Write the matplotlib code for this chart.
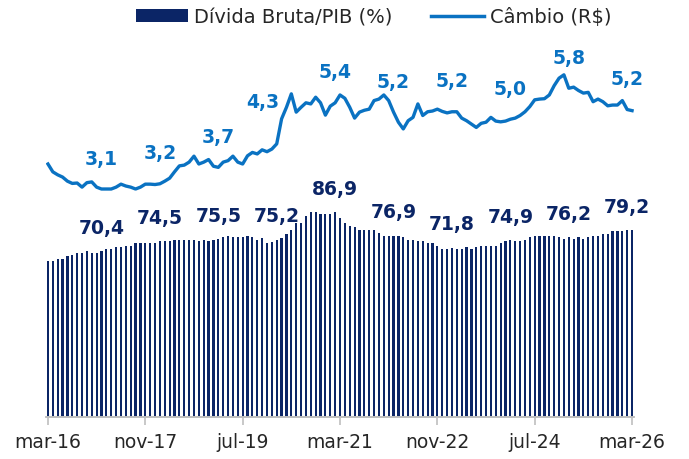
import matplotlib.pyplot as plt
from matplotlib.patches import Patch
from matplotlib.lines import Line2D

# months from mar-16 to mar-26
month_names = ['jan', 'fev', 'mar', 'abr', 'mai', 'jun', 'jul', 'ago', 'set', 'out', 'nov', 'dez']
months = []
for k in range(121):
    m = (2 + k) % 12
    y = 16 + (2 + k) // 12
    months.append('%s-%02d' % (month_names[m], y))

# Divida bruta do governo geral (% PIB)
debt = [
    66.4, 66.4, 67.1, 67.1, 68.5, 68.8, 69.6, 69.6, 70.3, 69.6, 69.6, 70.4,
    71.3, 71.3, 72.0, 72.0, 72.7, 72.7, 73.7, 73.7, 73.7, 73.7, 73.7, 74.5,
    74.6, 74.6, 75.3, 75.3, 75.3, 75.3, 75.3, 74.6, 75.3, 74.6, 75.3, 75.5,
    76.3, 77.0, 76.3, 76.3, 76.3, 77.0, 76.3, 75.3, 76.0, 73.9, 74.4, 75.2,
    76.0, 77.7, 79.5, 82.3, 82.3, 85.4, 86.9, 86.9, 86.2, 86.2, 86.2, 86.9,
    84.5, 82.3, 81.2, 80.5, 79.5, 79.5, 79.5, 79.5, 78.0, 77.0, 76.6, 76.9,
    76.6, 76.3, 75.3, 75.3, 74.6, 74.6, 73.9, 73.9, 72.7, 71.5, 71.5, 71.8,
    71.5, 71.5, 72.0, 71.5, 72.0, 72.7, 72.7, 72.7, 72.7, 73.9, 74.6, 74.9,
    74.6, 74.6, 75.3, 76.3, 77.0, 77.0, 77.0, 77.0, 77.0, 76.3, 75.6, 76.2,
    75.6, 76.3, 75.6, 76.3, 77.0, 77.0, 77.7, 77.7, 78.8, 78.8, 78.8, 79.2,
    79.5,
]

# Cambio R$/US$ (media mensal)
fx = [
    3.77, 3.56, 3.48, 3.42, 3.31, 3.25, 3.26, 3.15, 3.27, 3.29, 3.15, 3.10,
    3.10, 3.10, 3.15, 3.23, 3.18, 3.15, 3.10, 3.15, 3.23, 3.23, 3.22, 3.24,
    3.31, 3.39, 3.56, 3.72, 3.74, 3.82, 3.98, 3.77, 3.82, 3.89, 3.71, 3.68,
    3.82, 3.86, 3.98, 3.82, 3.77, 3.99, 4.08, 4.04, 4.15, 4.10, 4.17, 4.31,
    4.98, 5.29, 5.65, 5.16, 5.29, 5.41, 5.38, 5.56, 5.41, 5.08, 5.32, 5.41,
    5.62, 5.53, 5.29, 5.00, 5.16, 5.21, 5.24, 5.47, 5.51, 5.62, 5.47, 5.16,
    4.89, 4.71, 4.93, 5.02, 5.38, 5.07, 5.17, 5.19, 5.24, 5.18, 5.14, 5.17,
    5.17, 5.00, 4.93, 4.84, 4.75, 4.86, 4.89, 5.02, 4.92, 4.90, 4.92, 4.97,
    5.00, 5.07, 5.17, 5.31, 5.49, 5.51, 5.52, 5.62, 5.87, 6.07, 6.16, 5.80,
    5.83, 5.74, 5.67, 5.69, 5.44, 5.51, 5.44, 5.33, 5.35, 5.35, 5.47, 5.23,
    5.20,
]

label_idx = list(range(11, 121, 12))   # fevereiro de cada ano
tick_idx = list(range(0, 121, 20))

navy = '#0B2566'
blue = '#0A72C2'

x = list(range(len(months)))

fig = plt.figure(figsize=(6.89, 4.60), dpi=100)
ax = fig.add_axes([46 / 689, 1 - 418 / 460, 588 / 689, 378 / 460])
ax2 = ax.twinx()

ax.bar(x, debt, width=0.45, color=navy, zorder=2)
ax2.plot(x, fx, color=blue, lw=2.4, zorder=3)

ax.set_xlim(-0.4, 120.4)
ax.set_ylim(0, 160.4)
ax2.set_ylim(-3.01, 7.12)

for i in label_idx:
    ax.annotate(('%.1f' % debt[i]).replace('.', ','), (x[i], debt[i]),
                xytext=(0, 24), textcoords='offset pixels', ha='center', va='center',
                fontsize=13.5, fontweight='bold', color=navy, zorder=5)
    dx, dy = (0, 31)
    if i == 47:
        dx, dy = (-14, 42)
    ax2.annotate(('%.1f' % fx[i]).replace('.', ','), (x[i], fx[i]),
                 xytext=(dx, dy), textcoords='offset pixels', ha='center', va='center',
                 fontsize=13.5, fontweight='bold', color=blue, zorder=5)

ax.set_xticks(tick_idx)
ax.set_xticklabels([months[i] for i in tick_idx], fontsize=13.5, color='#262626')
ax.tick_params(axis='x', length=6, width=1.2, color='#BFBFBF', pad=5)
ax.set_yticks([])
ax2.set_yticks([])
for a in (ax, ax2):
    for s in ['top', 'right', 'left']:
        a.spines[s].set_visible(False)
    a.spines['bottom'].set_color('#BFBFBF')
    a.spines['bottom'].set_linewidth(1.2)

handles = [Patch(facecolor=navy), Line2D([0], [0], color=blue, lw=2.5)]
fig.legend(handles, ['Dívida Bruta/PIB (%)', 'Câmbio (R$)'], loc='center',
           bbox_to_anchor=(0.542, 0.961), ncol=2, frameon=False, fontsize=14,
           handlelength=2.7, handleheight=0.7, handletextpad=0.3, columnspacing=2.0,
           labelcolor='#262626')

fig.savefig('out.png', dpi=100)
